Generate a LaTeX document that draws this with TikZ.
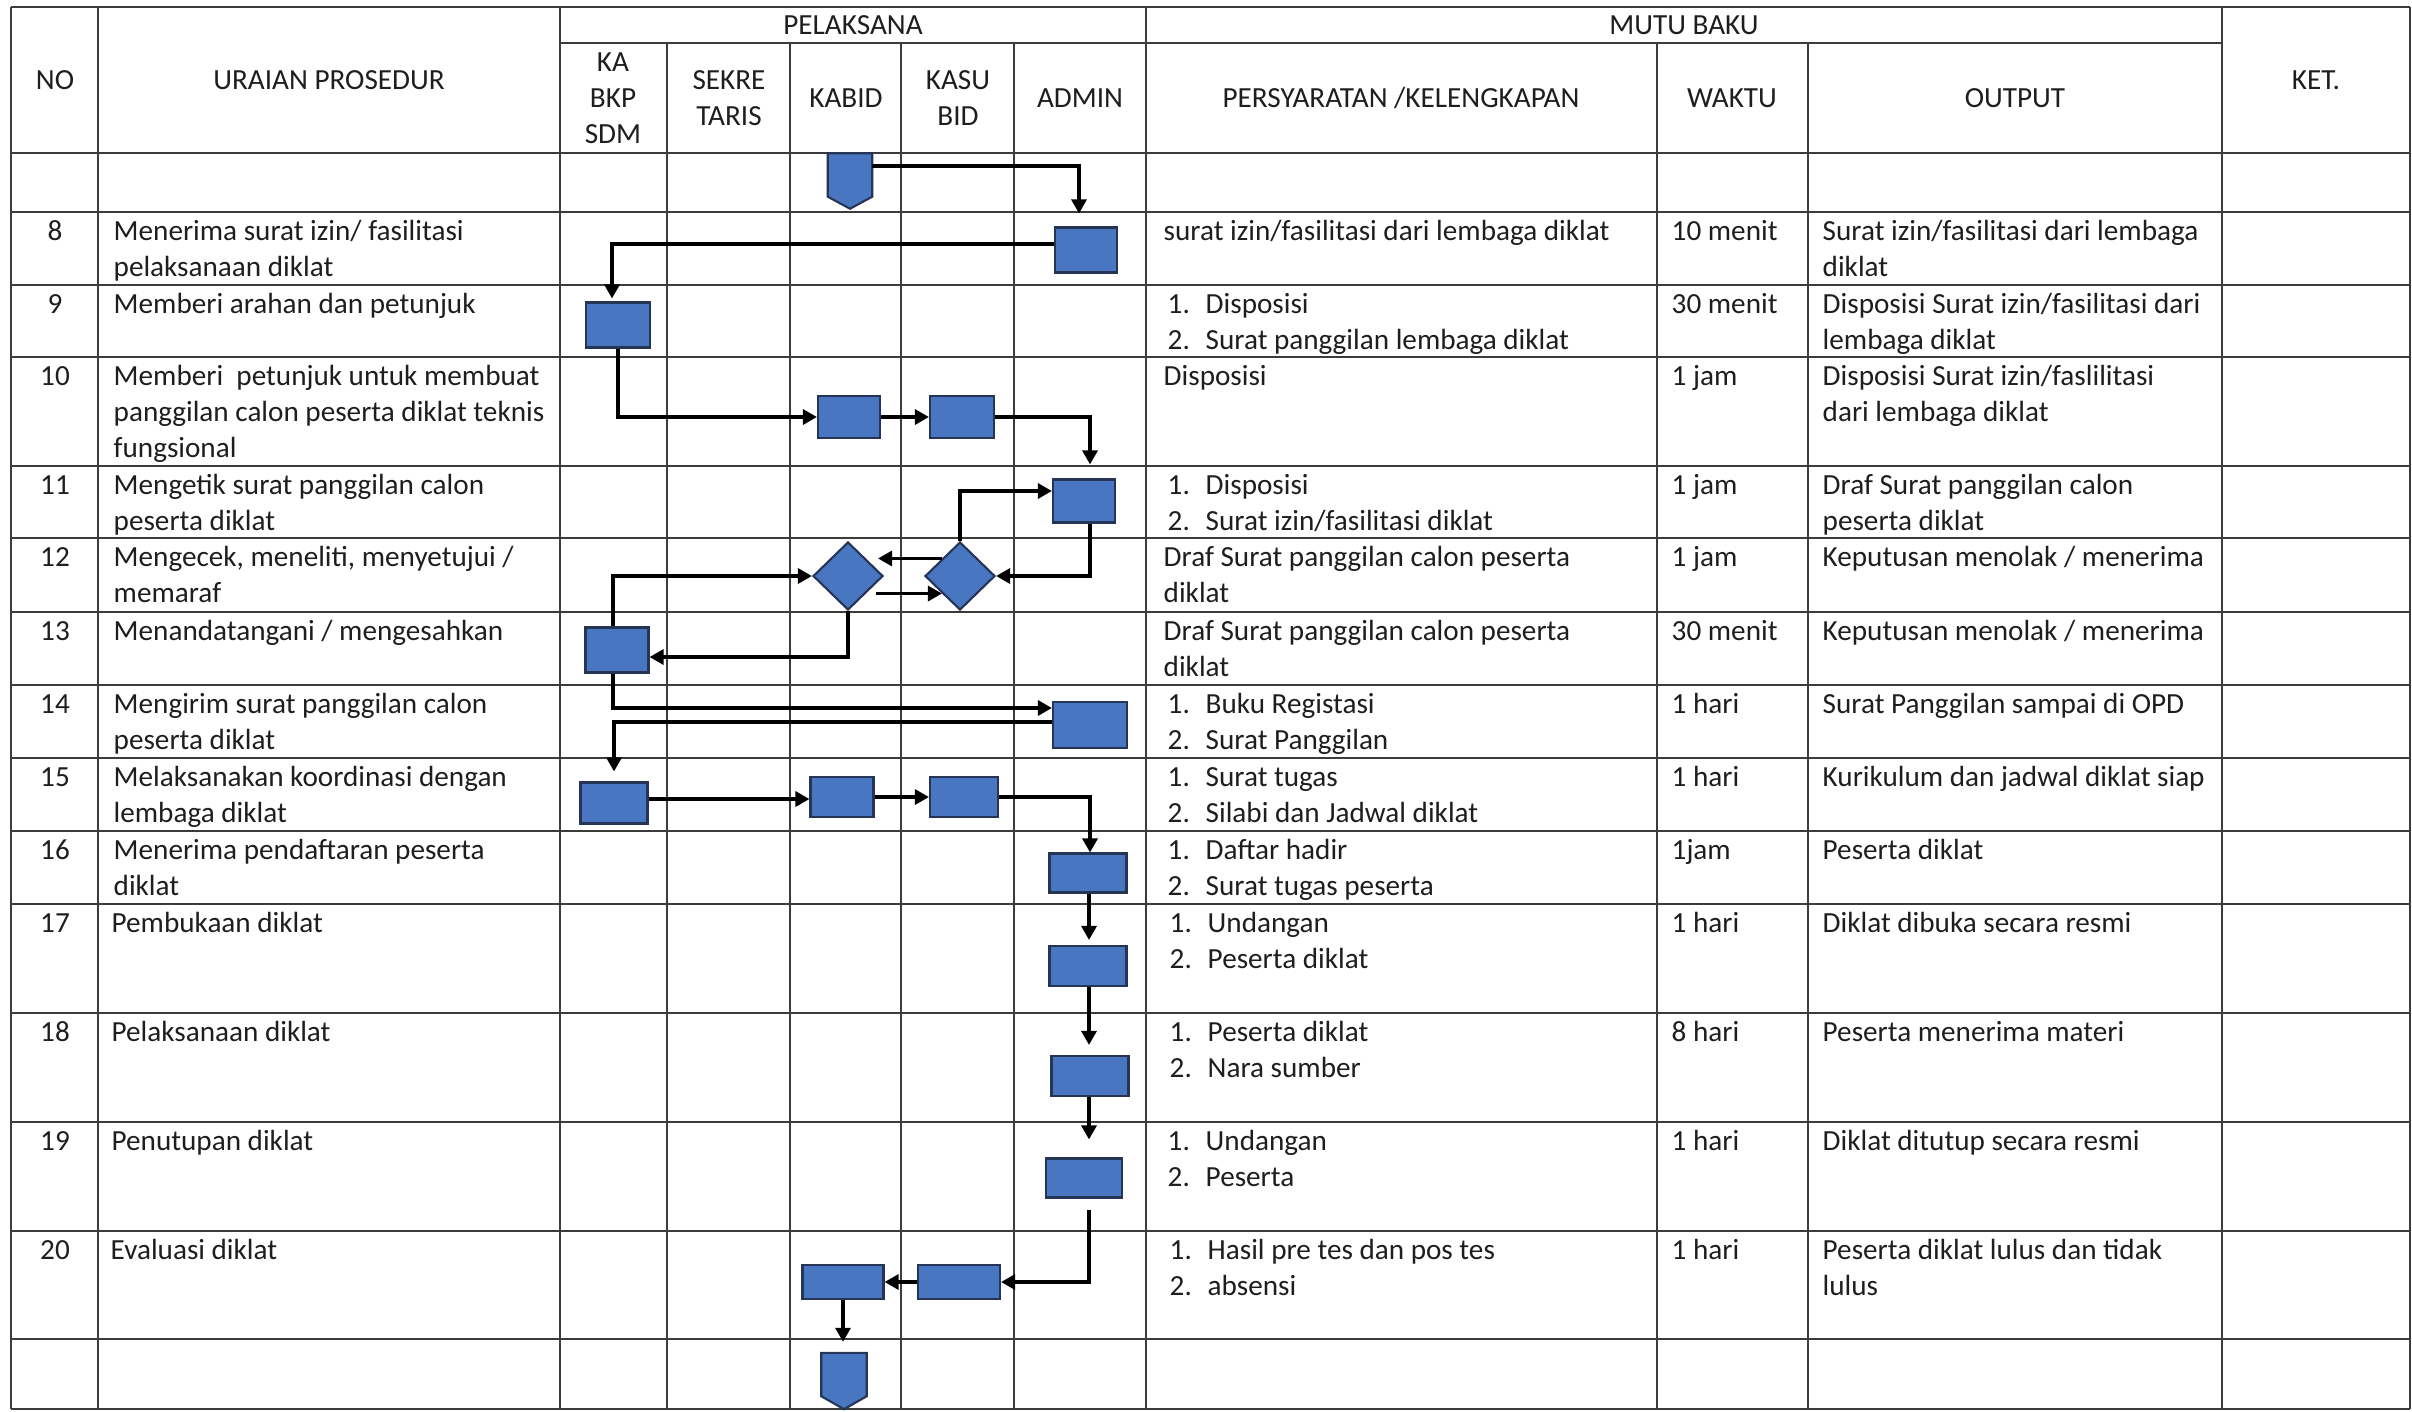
\documentclass[tikz,border=0pt]{standalone}
\usepackage{fontspec}
\setmainfont{Carlito}
\usepackage{tikz}
\usetikzlibrary{shapes.geometric,arrows.meta,positioning,calc}

\definecolor{biru}{RGB}{72,118,192}
\definecolor{birutua}{RGB}{38,52,86}
\definecolor{garis}{RGB}{60,60,60}
\definecolor{tinta}{RGB}{30,30,30}

\newcommand{\isi}{\fontsize{8.3}{10.24}\selectfont}
\newcommand{\butir}[2]{\makebox[3.8mm][l]{#1}#2}

\begin{document}
\begin{tikzpicture}[x=0.01cm, y=-0.01cm,
    kolom/.style={draw=garis, line width=0.5pt},
    judul/.style={font=\isi, text=tinta, align=center, inner sep=0pt},
    teks/.style={font=\isi, text=tinta, align=left, anchor=north west, inner sep=0pt},
    nomor/.style={font=\isi, text=tinta, anchor=north, inner sep=0pt},
    proses/.style={draw=birutua, fill=biru, line width=0.6pt, inner sep=0pt},
    putusan/.style={diamond, draw=birutua, fill=biru, line width=0.6pt, inner sep=0pt, minimum width=7mm, minimum height=6.8mm},
    konektor/.style={draw=birutua, fill=biru, line width=0.6pt},
    alur/.style={draw=black, line width=0.9pt, -{Triangle[length=1.4mm, width=1.5mm]}}
]
\useasboundingbox (0,0) rectangle (2412,1411);

% Table grid
\foreach \y in {7,153,212,285,357,466,538,612,685,758,831,904,1013,1122,1231,1339,1409}
    \draw[kolom] (11,\y) -- (2410,\y);
\draw[kolom] (560,43) -- (2222,43);
\foreach \x in {11,98,560,1146,2222,2410}
    \draw[kolom] (\x,7) -- (\x,1409);
\foreach \x in {667,790,901,1014,1657,1808}
    \draw[kolom] (\x,43) -- (\x,1409);

% Header
\node[judul] (hno) at (55,80) {NO};
\node[judul] (hur) at (329,80) {URAIAN PROSEDUR};
\node[judul] (hpl) at (853,25) {PELAKSANA};
\node[judul] (hmb) at (1684,25) {MUTU BAKU};
\node[judul] (hka) at (613,98) {KA\\BKP\\SDM};
\node[judul] (hsk) at (729,98) {SEKRE\\TARIS};
\node[judul] (hkb) at (846,98) {KABID};
\node[judul] (hks) at (958,98) {KASU\\BID};
\node[judul] (had) at (1080,98) {ADMIN};
\node[judul] (hps) at (1401,98) {PERSYARATAN /KELENGKAPAN};
\node[judul] (hwk) at (1732,98) {WAKTU};
\node[judul] (hop) at (2015,98) {OUTPUT};
\node[judul] (hkt) at (2316,80) {KET.};

% Row 8
\node[nomor] (no8) at (55,215) {\strut 8};
\node[teks] (ur8) at (113,215) {\strut Menerima surat izin/ fasilitasi\\pelaksanaan diklat};
\node[teks] (ps8) at (1163,215) {\strut surat izin/fasilitasi dari lembaga diklat};
\node[teks] (wk8) at (1671,215) {\strut 10 menit};
\node[teks] (op8) at (1822,215) {\strut Surat izin/fasilitasi dari lembaga\\diklat};

% Row 9
\node[nomor] (no9) at (55,288) {\strut 9};
\node[teks] (ur9) at (113,288) {\strut Memberi arahan dan petunjuk};
\node[teks] (ps9) at (1167,288) {\strut\butir{1.}{Disposisi}\\\butir{2.}{Surat panggilan lembaga diklat}};
\node[teks] (wk9) at (1671,288) {\strut 30 menit};
\node[teks] (op9) at (1822,288) {\strut Disposisi Surat izin/fasilitasi dari\\lembaga diklat};

% Row 10
\node[nomor] (no10) at (55,360) {\strut 10};
\node[teks] (ur10) at (113,360) {\strut Memberi~ petunjuk untuk membuat\\panggilan calon peserta diklat teknis\\fungsional};
\node[teks] (ps10) at (1163,360) {\strut Disposisi};
\node[teks] (wk10) at (1671,360) {\strut 1 jam};
\node[teks] (op10) at (1822,360) {\strut Disposisi Surat izin/faslilitasi\\dari lembaga diklat};

% Row 11
\node[nomor] (no11) at (55,469) {\strut 11};
\node[teks] (ur11) at (113,469) {\strut Mengetik surat panggilan calon\\peserta diklat};
\node[teks] (ps11) at (1167,469) {\strut\butir{1.}{Disposisi}\\\butir{2.}{Surat izin/fasilitasi diklat}};
\node[teks] (wk11) at (1671,469) {\strut 1 jam};
\node[teks] (op11) at (1822,469) {\strut Draf Surat panggilan calon\\peserta diklat};

% Row 12
\node[nomor] (no12) at (55,541) {\strut 12};
\node[teks] (ur12) at (113,541) {\strut Mengecek, meneliti, menyetujui /\\memaraf};
\node[teks] (ps12) at (1163,541) {\strut Draf Surat panggilan calon peserta\\diklat};
\node[teks] (wk12) at (1671,541) {\strut 1 jam};
\node[teks] (op12) at (1822,541) {\strut Keputusan menolak / menerima};

% Row 13
\node[nomor] (no13) at (55,615) {\strut 13};
\node[teks] (ur13) at (113,615) {\strut Menandatangani / mengesahkan};
\node[teks] (ps13) at (1163,615) {\strut Draf Surat panggilan calon peserta\\diklat};
\node[teks] (wk13) at (1671,615) {\strut 30 menit};
\node[teks] (op13) at (1822,615) {\strut Keputusan menolak / menerima};

% Row 14
\node[nomor] (no14) at (55,688) {\strut 14};
\node[teks] (ur14) at (113,688) {\strut Mengirim surat panggilan calon\\peserta diklat};
\node[teks] (ps14) at (1167,688) {\strut\butir{1.}{Buku Registasi}\\\butir{2.}{Surat Panggilan}};
\node[teks] (wk14) at (1671,688) {\strut 1 hari};
\node[teks] (op14) at (1822,688) {\strut Surat Panggilan sampai di OPD};

% Row 15
\node[nomor] (no15) at (55,761) {\strut 15};
\node[teks] (ur15) at (113,761) {\strut Melaksanakan koordinasi dengan\\lembaga diklat};
\node[teks] (ps15) at (1167,761) {\strut\butir{1.}{Surat tugas}\\\butir{2.}{Silabi dan Jadwal diklat}};
\node[teks] (wk15) at (1671,761) {\strut 1 hari};
\node[teks] (op15) at (1822,761) {\strut Kurikulum dan jadwal diklat siap};

% Row 16
\node[nomor] (no16) at (55,834) {\strut 16};
\node[teks] (ur16) at (113,834) {\strut Menerima pendaftaran peserta\\diklat};
\node[teks] (ps16) at (1167,834) {\strut\butir{1.}{Daftar hadir}\\\butir{2.}{Surat tugas peserta}};
\node[teks] (wk16) at (1671,834) {\strut 1jam};
\node[teks] (op16) at (1822,834) {\strut Peserta diklat};

% Row 17
\node[nomor] (no17) at (55,907) {\strut 17};
\node[teks] (ur17) at (111,907) {\strut Pembukaan diklat};
\node[teks] (ps17) at (1169,907) {\strut\butir{1.}{Undangan}\\\butir{2.}{Peserta diklat}};
\node[teks] (wk17) at (1671,907) {\strut 1 hari};
\node[teks] (op17) at (1822,907) {\strut Diklat dibuka secara resmi};

% Row 18
\node[nomor] (no18) at (55,1016) {\strut 18};
\node[teks] (ur18) at (111,1016) {\strut Pelaksanaan diklat};
\node[teks] (ps18) at (1169,1016) {\strut\butir{1.}{Peserta diklat}\\\butir{2.}{Nara sumber}};
\node[teks] (wk18) at (1671,1016) {\strut 8 hari};
\node[teks] (op18) at (1822,1016) {\strut Peserta menerima materi};

% Row 19
\node[nomor] (no19) at (55,1125) {\strut 19};
\node[teks] (ur19) at (111,1125) {\strut Penutupan diklat};
\node[teks] (ps19) at (1167,1125) {\strut\butir{1.}{Undangan}\\\butir{2.}{Peserta}};
\node[teks] (wk19) at (1671,1125) {\strut 1 hari};
\node[teks] (op19) at (1822,1125) {\strut Diklat ditutup secara resmi};

% Row 20
\node[nomor] (no20) at (55,1234) {\strut 20};
\node[teks] (ur20) at (110,1234) {\strut Evaluasi diklat};
\node[teks] (ps20) at (1169,1234) {\strut\butir{1.}{Hasil pre tes dan pos tes}\\\butir{2.}{absensi}};
\node[teks] (wk20) at (1671,1234) {\strut 1 hari};
\node[teks] (op20) at (1822,1234) {\strut Peserta diklat lulus dan tidak\\lulus};

% Flow symbols
\node[inner sep=0pt, minimum width=4.3mm, minimum height=5.4mm] (mulai) at (850,181) {};
\filldraw[konektor] (mulai.north west) -- (mulai.north east) -- ([yshift=1.2mm]mulai.south east)
    -- (mulai.south) -- ([yshift=1.2mm]mulai.south west) -- cycle;
\node[proses, minimum width=6.2mm, minimum height=4.5mm] (p8) at (1086,250) {};
\node[proses, minimum width=6.4mm, minimum height=4.5mm] (p9) at (618,325) {};
\node[proses, minimum width=6.2mm, minimum height=4.2mm] (p10a) at (849,417) {};
\node[proses, minimum width=6.4mm, minimum height=4.2mm] (p10b) at (962,417) {};
\node[proses, minimum width=6.2mm, minimum height=4.3mm] (p11) at (1084,501) {};
\node[putusan] (d12a) at (848,576) {};
\node[putusan] (d12b) at (960,576) {};
\node[proses, minimum width=6.3mm, minimum height=4.5mm] (p13) at (617,650) {};
\node[proses, minimum width=7.4mm, minimum height=4.6mm] (p14) at (1090,725) {};
\node[proses, minimum width=6.7mm, minimum height=4.1mm] (p15a) at (614,803) {};
\node[proses, minimum width=6.3mm, minimum height=4.0mm] (p15b) at (842,797) {};
\node[proses, minimum width=6.8mm, minimum height=4.0mm] (p15c) at (964,797) {};
\node[proses, minimum width=7.7mm, minimum height=3.9mm] (p16) at (1088,873) {};
\node[proses, minimum width=7.7mm, minimum height=4.0mm] (p17) at (1088,966) {};
\node[proses, minimum width=7.7mm, minimum height=4.0mm] (p18) at (1090,1076) {};
\node[proses, minimum width=7.6mm, minimum height=3.9mm] (p19) at (1084,1178) {};
\node[proses, minimum width=8.2mm, minimum height=3.4mm] (p20b) at (959,1282) {};
\node[proses, minimum width=8.1mm, minimum height=3.4mm] (p20a) at (843,1282) {};
\node[inner sep=0pt, minimum width=4.4mm, minimum height=5.5mm] (selesai) at (844,1381) {};
\filldraw[konektor] (selesai.north west) -- (selesai.north east) -- ([yshift=1.3mm]selesai.south east)
    -- (selesai.south) -- ([yshift=1.3mm]selesai.south west) -- cycle;

% Connectors
\draw[alur, shorten >=1.3mm] ([yshift=1.5mm]mulai.east) -| ([xshift=-0.7mm]p8.north);
\draw[alur, shorten >=0.3mm] ([yshift=0.6mm]p8.west) -| ([xshift=-0.6mm]p9.north);
\draw[alur] (p9.south) |- (p10a.west);
\draw[alur] (p10a.east) -- (p10b.west);
\draw[alur, shorten >=1.4mm] (p10b.east) -| ([xshift=0.6mm]p11.north);
\draw[alur] (d12b.north) |- ([yshift=1mm]p11.west);
\draw[alur] ([xshift=0.6mm]p11.south) |- (d12b.east);
\draw[alur, shorten >=1.2mm] (d12b.north west) -- (d12b.north west -| d12a.north east);
\draw[alur, shorten <=1mm] (d12a.south east) -- (d12b.south west);
\draw[alur] (d12a.south) |- ([yshift=-0.7mm]p13.east);
\draw[alur] ([xshift=-0.4mm]p13.north) |- (d12a.west);
\draw[alur] ([xshift=-0.4mm]p13.south) |- ([yshift=1.7mm]p14.west);
\draw[alur, shorten >=1mm] ([yshift=0.3mm]p14.west) -| (p15a.north);
\draw[alur] ([yshift=0.4mm]p15a.east) -- ([yshift=0.4mm]p15a.east -| p15b.west);
\draw[alur] (p15b.east) -- (p15c.west);
\draw[alur] (p15c.east) -| ([xshift=0.2mm]p16.north);
\draw[alur, shorten >=0.5mm] ([xshift=0.1mm]p16.south) -- ([xshift=0.1mm]p16.south |- p17.north);
\draw[alur, shorten >=1mm] ([xshift=0.1mm]p17.south) -- ([xshift=0.1mm]p17.south |- p18.north);
\draw[alur, shorten >=1.8mm] ([xshift=-0.1mm]p18.south) -- ([xshift=-0.1mm]p18.south |- p19.north);
\draw[alur, shorten <=1.1mm] ([xshift=0.5mm]p19.south) |- (p20b.east);
\draw[alur] (p20b.west) -- (p20a.east);
\draw[alur, shorten >=1.1mm] (p20a.south) -- (p20a.south |- selesai.north);

\end{tikzpicture}
\end{document}
